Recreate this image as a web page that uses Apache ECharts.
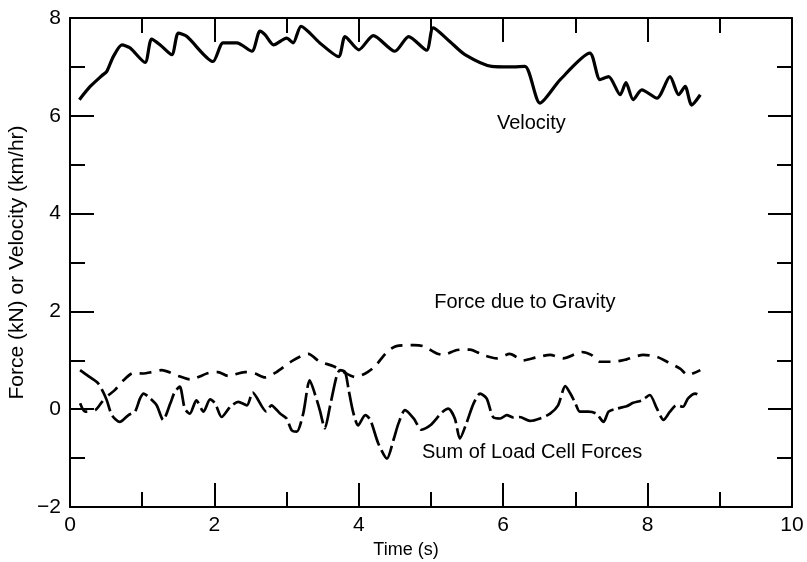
<!DOCTYPE html>
<html>
<head>
<meta charset="utf-8">
<script src="https://cdn.jsdelivr.net/npm/echarts@6/dist/echarts.min.js"></script>
<style>
  html, body { margin: 0; padding: 0; background: #fff; }
  #chart { width: 807px; height: 562px; }
</style>
</head>
<body>
<div id="chart"></div>
<script>
// time (s), value pairs
const velocity = [
  [0.13, 6.33], [0.28, 6.60], [0.44, 6.82], [0.51, 6.91], [0.60, 7.21], [0.72, 7.45],
  [0.83, 7.39], [1.04, 7.09], [1.13, 7.57], [1.25, 7.45], [1.41, 7.25], [1.50, 7.69],
  [1.62, 7.62], [1.98, 7.11], [2.12, 7.49], [2.31, 7.49], [2.52, 7.32], [2.63, 7.73],
  [2.70, 7.66], [2.82, 7.45], [3.00, 7.59], [3.09, 7.49], [3.20, 7.83], [3.46, 7.49],
  [3.72, 7.21], [3.81, 7.62], [4.00, 7.35], [4.20, 7.64], [4.50, 7.32], [4.69, 7.62],
  [4.94, 7.34], [5.03, 7.80], [5.26, 7.52], [5.47, 7.25], [5.84, 7.01], [6.09, 7.00],
  [6.30, 7.01], [6.51, 6.26], [6.79, 6.74], [7.20, 7.28], [7.34, 6.74], [7.46, 6.80],
  [7.62, 6.43], [7.70, 6.68], [7.80, 6.33], [7.92, 6.53], [8.13, 6.36], [8.31, 6.80],
  [8.43, 6.43], [8.52, 6.60], [8.61, 6.22], [8.73, 6.43]
];

const gravity = [
  [0.14, 0.12], [0.21, -0.05], [0.35, -0.02], [0.48, 0.22], [0.62, 0.39], [0.74, 0.59],
  [0.88, 0.74], [1.02, 0.73], [1.13, 0.76], [1.27, 0.80], [1.50, 0.68], [1.66, 0.61],
  [1.92, 0.74], [2.05, 0.76], [2.19, 0.68], [2.42, 0.76], [2.56, 0.73], [2.70, 0.65],
  [2.86, 0.76], [3.09, 1.00], [3.30, 1.13], [3.46, 0.97], [3.65, 0.88], [3.79, 0.76],
  [3.95, 0.66], [4.09, 0.73], [4.22, 0.87], [4.39, 1.17], [4.52, 1.29], [4.76, 1.31],
  [4.89, 1.29], [5.08, 1.14], [5.17, 1.11], [5.36, 1.21], [5.54, 1.22], [5.72, 1.11],
  [5.91, 1.04], [6.09, 1.13], [6.28, 1.00], [6.46, 1.06], [6.65, 1.11], [6.83, 1.04],
  [7.09, 1.17], [7.22, 1.11], [7.34, 0.97], [7.53, 0.97], [7.71, 1.02], [7.94, 1.11],
  [8.13, 1.07], [8.31, 0.94], [8.45, 0.83], [8.56, 0.70], [8.73, 0.80]
];

const loadCell = [
  [0.14, 0.80], [0.28, 0.65], [0.39, 0.53], [0.46, 0.35], [0.51, 0.18], [0.58, -0.12],
  [0.69, -0.26], [0.81, -0.12], [0.90, -0.05], [0.97, 0.22], [1.02, 0.32], [1.11, 0.22],
  [1.20, 0.08], [1.29, -0.22], [1.39, 0.12], [1.45, 0.35], [1.52, 0.46], [1.59, 0.01],
  [1.66, -0.09], [1.75, 0.18], [1.85, -0.05], [1.94, 0.20], [2.01, 0.12], [2.10, -0.16],
  [2.22, 0.05], [2.33, 0.15], [2.45, 0.08], [2.53, 0.34], [2.72, -0.05], [2.79, 0.08],
  [2.91, -0.09], [3.00, -0.19], [3.07, -0.43], [3.14, -0.46], [3.23, -0.09], [3.32, 0.59],
  [3.42, 0.18], [3.46, -0.02], [3.53, -0.39], [3.60, 0.05], [3.69, 0.66], [3.74, 0.80],
  [3.81, 0.76], [3.86, 0.39], [3.92, -0.05], [3.99, -0.33], [4.09, -0.12], [4.16, -0.22],
  [4.27, -0.70], [4.39, -1.01], [4.48, -0.63], [4.55, -0.29], [4.64, -0.02], [4.76, -0.19],
  [4.87, -0.42], [4.99, -0.33], [5.15, -0.07], [5.24, 0.01], [5.33, -0.19], [5.40, -0.60],
  [5.49, -0.29], [5.59, 0.12], [5.68, 0.32], [5.77, 0.22], [5.86, -0.16], [5.96, -0.19],
  [6.05, -0.12], [6.14, -0.17], [6.23, -0.16], [6.37, -0.24], [6.51, -0.19], [6.65, -0.09],
  [6.76, 0.08], [6.86, 0.47], [6.93, 0.32], [7.00, 0.12], [7.06, -0.05], [7.18, -0.05],
  [7.29, -0.09], [7.39, -0.26], [7.46, -0.05], [7.57, 0.01], [7.71, 0.06], [7.80, 0.13],
  [7.92, 0.18], [8.03, 0.29], [8.13, 0.01], [8.22, -0.22], [8.31, -0.05], [8.40, 0.08],
  [8.49, 0.05], [8.56, 0.22], [8.66, 0.32], [8.73, 0.27]
];

// curve captions: [time, value, text]
const captions = [
  [6.39, 5.84, 'Velocity'],
  [6.30, 2.19, 'Force due to Gravity'],
  [6.40, -0.88, 'Sum of Load Cell Forces']
];

const font = 'Liberation Sans, Arial, sans-serif';
const minus = v => String(v).replace('-', '\u2212');

function frameAxis(extra) {
  return Object.assign({
    axisLine: { show: true, onZero: false, lineStyle: { color: '#000', width: 2 } },
    axisTick: { show: true, inside: true, length: 24, lineStyle: { color: '#000', width: 2 } },
    minorTick: { show: true, splitNumber: 2, length: 15, lineStyle: { color: '#000', width: 2 } },
    splitLine: { show: false },
    minorSplitLine: { show: false }
  }, extra);
}

const chart = echarts.init(document.getElementById('chart'));

chart.setOption({
  animation: false,
  backgroundColor: '#fff',
  grid: { left: 70, right: 15, top: 18, bottom: 55, outerBoundsMode: 'none', containLabel: false },
  xAxis: [
    frameAxis({
      type: 'value', min: 0, max: 10, interval: 2, position: 'bottom',
      name: 'Time (s)', nameLocation: 'middle', nameGap: 32,
      nameTextStyle: { fontFamily: font, fontSize: 18, color: '#000', padding: [0, 50, 0, 0] },
      axisLabel: { fontFamily: font, fontSize: 21, color: '#000', margin: 8 }
    }),
    frameAxis({
      type: 'value', min: 0, max: 10, interval: 2, position: 'top',
      axisLabel: { show: false }
    })
  ],
  yAxis: [
    frameAxis({
      type: 'value', min: -2, max: 8, interval: 2, position: 'left',
      name: 'Force (kN) or Velocity (km/hr)', nameLocation: 'middle', nameGap: 42,
      nameMoveOverlap: false,
      nameTextStyle: { fontFamily: font, fontSize: 21, color: '#000' },
      axisLabel: { fontFamily: font, fontSize: 21, color: '#000', margin: 9, formatter: minus }
    }),
    frameAxis({
      type: 'value', min: -2, max: 8, interval: 2, position: 'right',
      axisLabel: { show: false }
    })
  ],
  series: [
    {
      name: 'Velocity', type: 'line', data: velocity, smooth: 0.25,
      showSymbol: false, lineStyle: { color: '#000', width: 3.2 }
    },
    {
      name: 'Force due to Gravity', type: 'line', data: gravity, smooth: 0.25,
      showSymbol: false, lineStyle: { color: '#000', width: 2.7, type: [12, 8] }
    },
    {
      name: 'Sum of Load Cell Forces', type: 'line', data: loadCell, smooth: 0.25,
      showSymbol: false, lineStyle: { color: '#000', width: 2.7, type: [24, 5] }
    },
    {
      type: 'scatter', data: captions, symbolSize: 0, silent: true,
      itemStyle: { opacity: 1 },
      label: {
        show: true, position: 'inside', formatter: p => p.data[2],
        fontFamily: font, fontSize: 20, color: '#000'
      }
    }
  ]
});
</script>
</body>
</html>
